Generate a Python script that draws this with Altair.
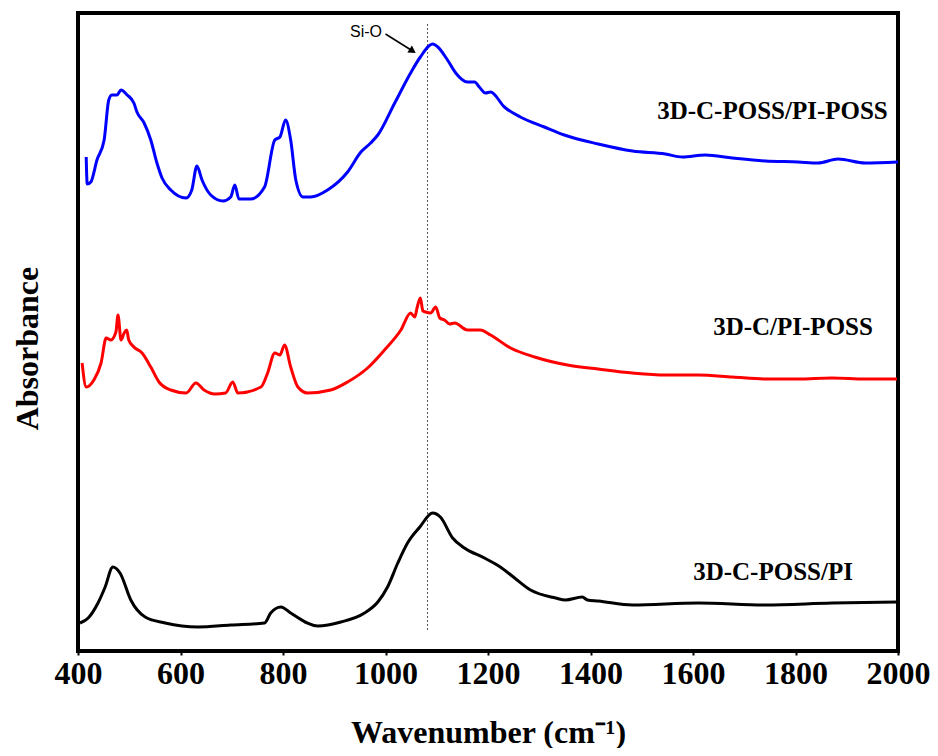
import altair as alt
import pandas as pd

# ---- data (wavenumber cm-1, absorbance a.u.) ----
blue_w = [416, 418, 425, 437, 451, 460, 466, 476, 484, 496, 509, 515, 529, 542, 554, 564, 581, 611, 622, 632, 642, 659,
          683, 698, 706, 714, 737, 764, 784, 794, 805, 815, 825, 839, 854, 887, 926, 952, 971, 985, 1018, 1049, 1068,
          1092, 1102, 1121, 1137, 1160, 1174, 1183, 1195, 1205, 1232, 1263, 1310, 1349, 1415, 1482, 1546, 1579, 1624,
          1677, 1741, 1805, 1844, 1883, 1936, 2000]
blue_a = [4.94, 4.67, 4.69, 4.91, 5.11, 5.51, 5.56, 5.56, 5.61, 5.56, 5.48, 5.39, 5.28, 5.11, 4.88, 4.73, 4.61, 4.53,
          4.61, 4.85, 4.71, 4.56, 4.50, 4.54, 4.66, 4.52, 4.52, 4.64, 5.11, 5.14, 5.31, 5.11, 4.71, 4.54, 4.54, 4.61,
          4.79, 4.99, 5.08, 5.16, 5.48, 5.78, 5.94, 6.07, 6.04, 5.91, 5.78, 5.69, 5.69, 5.64, 5.58, 5.59, 5.44, 5.34,
          5.24, 5.16, 5.07, 5.00, 4.97, 4.94, 4.96, 4.93, 4.90, 4.89, 4.88, 4.92, 4.88, 4.89]

red_w = [408, 416, 431, 445, 455, 464, 474, 478, 484, 490, 495, 499, 509, 525, 542, 558, 581, 611, 630, 646, 667, 688,
         702, 712, 757, 770, 784, 794, 803, 815, 829, 848, 893, 926, 965, 998, 1030, 1049, 1057, 1062, 1068, 1073, 1078,
         1088, 1098, 1106, 1115, 1125, 1135, 1160, 1185, 1205, 1244, 1291, 1355, 1415, 1482, 1546, 1610, 1677, 1741,
         1805, 1871, 1936, 1998]
red_a = [2.88, 2.64, 2.71, 2.88, 3.13, 3.11, 3.19, 3.36, 3.11, 3.18, 3.21, 3.11, 3.04, 2.98, 2.84, 2.69, 2.61, 2.58,
         2.68, 2.61, 2.57, 2.58, 2.69, 2.58, 2.64, 2.78, 2.98, 2.96, 3.06, 2.84, 2.64, 2.58, 2.61, 2.69, 2.83, 3.01,
         3.21, 3.38, 3.34, 3.44, 3.53, 3.40, 3.39, 3.38, 3.44, 3.33, 3.31, 3.27, 3.28, 3.21, 3.21, 3.16, 3.03, 2.94,
         2.86, 2.82, 2.78, 2.76, 2.76, 2.74, 2.72, 2.72, 2.73, 2.72, 2.72]

black_w = [404, 420, 439, 453, 468, 482, 503, 531, 570, 634, 698, 764, 776, 796, 815, 868, 913, 959, 985, 1004, 1024,
           1043, 1067, 1092, 1107, 1131, 1154, 1193, 1224, 1252, 1283, 1332, 1351, 1384, 1394, 1415, 1482, 1610, 1741,
           1871, 1998]
black_a = [0.28, 0.33, 0.48, 0.64, 0.84, 0.78, 0.51, 0.34, 0.28, 0.24, 0.26, 0.28, 0.38, 0.44, 0.38, 0.25, 0.29, 0.38,
           0.49, 0.64, 0.88, 1.08, 1.24, 1.38, 1.34, 1.13, 1.03, 0.93, 0.84, 0.73, 0.61, 0.53, 0.51, 0.54, 0.51, 0.50,
           0.46, 0.48, 0.46, 0.48, 0.49]

series_names = ["3D-C-POSS/PI-POSS", "3D-C/PI-POSS", "3D-C-POSS/PI"]
series_colors = ["#0000ff", "#ff0000", "#000000"]
label_w = [1980, 1951, 1912]
label_a = [5.32, 3.16, 0.71]

x_ticks = [400, 600, 800, 1000, 1200, 1400, 1600, 1800, 2000]
siO_w = 1082

rows = []
for name, ws, as_ in zip(series_names, [blue_w, red_w, black_w], [blue_a, red_a, black_a]):
    for i, (w, a) in enumerate(zip(ws, as_)):
        rows.append({"series": name, "w": w, "a": a, "order": i})
df = pd.DataFrame(rows)
lab_df = pd.DataFrame({"series": series_names, "w": label_w, "a": label_a})

SERIF = "Liberation Serif"
xs = alt.Scale(domain=[400, 2000], nice=False, zero=False)
ys = alt.Scale(domain=[0, 6.38], nice=False, zero=False)

lines = alt.Chart(df).mark_line(strokeWidth=3, strokeJoin="round", interpolate="monotone").encode(
    x=alt.X("w:Q", scale=xs,
            axis=alt.Axis(values=x_ticks, title="Wavenumber (cm⁻¹)", format="d", grid=False, domain=False,
                          tickSize=4, tickWidth=2, tickColor="black", labelFlush=False, labelOverlap=False,
                          labelFont=SERIF, labelFontSize=32, labelFontWeight="bold", labelColor="black",
                          labelPadding=3,
                          titleFont=SERIF, titleFontSize=32, titleFontWeight="bold", titleColor="black",
                          titleY=91, titleBaseline="alphabetic")),
    y=alt.Y("a:Q", scale=ys,
            axis=alt.Axis(title="Absorbance", labels=False, ticks=False, grid=False, domain=False,
                          titleFont=SERIF, titleFontSize=32, titleFontWeight="bold", titleColor="black",
                          titleX=-51, titleY=335, titleAngle=-90, titleAlign="center", titleBaseline="middle")),
    color=alt.Color("series:N", scale=alt.Scale(domain=series_names, range=series_colors), legend=None),
    detail="series:N",
    order="order:Q",
)

labels = alt.Chart(lab_df).mark_text(font=SERIF, fontSize=25, fontWeight="bold", align="right",
                                     baseline="alphabetic", color="black").encode(
    x=alt.X("w:Q", scale=xs), y=alt.Y("a:Q", scale=ys), text="series:N")

vline = alt.Chart(pd.DataFrame({"w": [siO_w], "a1": [0.21], "a2": [6.28]})).mark_rule(
    color="#555555", strokeWidth=1, strokeDash=[2, 2]).encode(
    x=alt.X("w:Q", scale=xs), y=alt.Y("a1:Q", scale=ys), y2="a2:Q")

arrow_df = pd.DataFrame({"w1": [1000], "a1": [6.17], "w2": [1053], "a2": [6.0]})
arrow_line = alt.Chart(arrow_df).mark_rule(color="black", strokeWidth=1.5).encode(
    x=alt.X("w1:Q", scale=xs), y=alt.Y("a1:Q", scale=ys), x2="w2:Q", y2="a2:Q")
arrow_head = alt.Chart(arrow_df).mark_point(shape="triangle-right", filled=True, color="black", size=70,
                                            angle=33, opacity=1).encode(
    x=alt.X("w2:Q", scale=xs), y=alt.Y("a2:Q", scale=ys))

sio_text = alt.Chart(pd.DataFrame({"w": [962], "a": [6.19], "t": ["Si-O"]})).mark_text(
    font="Liberation Sans", fontSize=16, color="black", align="center", baseline="middle").encode(
    x=alt.X("w:Q", scale=xs), y=alt.Y("a:Q", scale=ys), text="t:N")

chart = alt.layer(vline, lines, labels, arrow_line, arrow_head, sio_text).properties(
    width=820, height=638,
    autosize=alt.AutoSizeParams(type="none"),
    padding={"left": 70, "top": 5, "right": 32, "bottom": 97},
    background="white",
).configure_view(stroke="black", strokeWidth=4)

chart.save("out.html", embed_options={"renderer": "svg", "actions": False})
